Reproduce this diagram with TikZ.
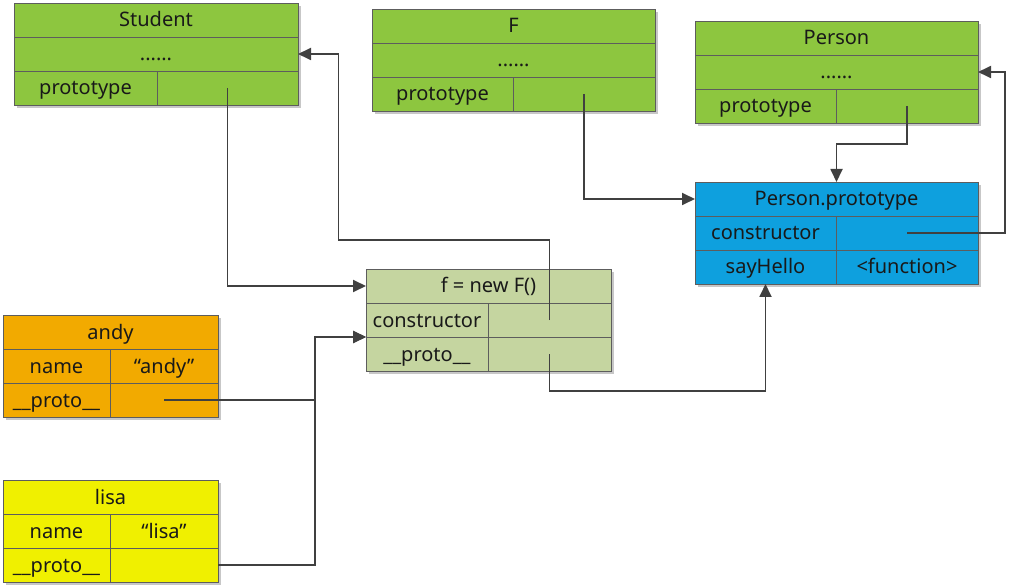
\documentclass[tikz,border=0pt]{standalone}
\usepackage{fontspec}
\setmainfont{Noto Sans}
\usetikzlibrary{positioning,shadows,arrows.meta}
\definecolor{leaf}{RGB}{141,198,63}
\definecolor{sky}{RGB}{14,160,222}
\definecolor{sage}{RGB}{197,213,160}
\definecolor{amber}{RGB}{242,170,0}
\definecolor{lemon}{RGB}{240,240,0}
\definecolor{edge}{RGB}{64,64,64}
\begin{document}
\begin{tikzpicture}[x=1pt,y=-1pt,
  cell/.style={draw=edge!85,line width=0.8pt,outer sep=0pt,inner sep=0pt,
    minimum height=34pt,text height=14pt,text depth=0pt,
    font=\fontsize{20}{24}\selectfont,text=black!90,
    drop shadow={shadow xshift=3pt,shadow yshift=-3pt,fill=black!22,opacity=1}},
  link/.style={draw=edge,line width=1.8pt,-{Triangle[length=13pt,width=12pt]}}]
\useasboundingbox (0,0) rectangle (1010,588);
% Student
\node[cell,fill=leaf,minimum width=284pt,anchor=north west] (stu) at (14,3) {Student};
\node[cell,fill=leaf,minimum width=284pt,below=0pt of stu] (stu-dots) {......};
\node[cell,fill=leaf,minimum width=143pt,below right=0pt and 0pt of stu-dots.south west] (stu-key) {prototype};
\node[cell,fill=leaf,minimum width=141pt,right=0pt of stu-key] (stu-val) {};
% F
\node[cell,fill=leaf,minimum width=283pt,anchor=north west] (F) at (372,9) {F};
\node[cell,fill=leaf,minimum width=283pt,below=0pt of F] (F-dots) {......};
\node[cell,fill=leaf,minimum width=141pt,below right=0pt and 0pt of F-dots.south west] (F-key) {prototype};
\node[cell,fill=leaf,minimum width=142pt,right=0pt of F-key] (F-val) {};
% Person
\node[cell,fill=leaf,minimum width=283pt,anchor=north west] (P) at (695,21) {Person};
\node[cell,fill=leaf,minimum width=283pt,below=0pt of P] (P-dots) {......};
\node[cell,fill=leaf,minimum width=141pt,below right=0pt and 0pt of P-dots.south west] (P-key) {prototype};
\node[cell,fill=leaf,minimum width=142pt,right=0pt of P-key] (P-val) {};
% Person.prototype
\node[cell,fill=sky,minimum width=283pt,anchor=north west] (pp) at (695,182) {Person.prototype};
\node[cell,fill=sky,minimum width=141pt,below right=0pt and 0pt of pp.south west] (pp-ctor-key) {constructor};
\node[cell,fill=sky,minimum width=142pt,right=0pt of pp-ctor-key] (pp-ctor-val) {};
\node[cell,fill=sky,minimum width=141pt,below right=0pt and 0pt of pp-ctor-key.south west] (pp-hello-key) {sayHello};
\node[cell,fill=sky,minimum width=142pt,right=0pt of pp-hello-key] (pp-hello-val) {<function>};
% f = new F()
\node[cell,fill=sage,minimum width=245pt,anchor=north west] (f) at (366,269) {f = new F()};
\node[cell,fill=sage,minimum width=122pt,below right=0pt and 0pt of f.south west] (f-ctor-key) {constructor};
\node[cell,fill=sage,minimum width=123pt,right=0pt of f-ctor-key] (f-ctor-val) {};
\node[cell,fill=sage,minimum width=122pt,below right=0pt and 0pt of f-ctor-key.south west] (f-proto-key) {\_\_proto\_\_};
\node[cell,fill=sage,minimum width=123pt,right=0pt of f-proto-key] (f-proto-val) {};
% andy
\node[cell,fill=amber,minimum width=215pt,anchor=north west] (andy) at (3,315) {andy};
\node[cell,fill=amber,minimum width=107pt,below right=0pt and 0pt of andy.south west] (andy-name-key) {name};
\node[cell,fill=amber,minimum width=108pt,right=0pt of andy-name-key] (andy-name-val) {“andy”};
\node[cell,fill=amber,minimum width=107pt,below right=0pt and 0pt of andy-name-key.south west] (andy-proto-key) {\_\_proto\_\_};
\node[cell,fill=amber,minimum width=108pt,right=0pt of andy-proto-key] (andy-proto-val) {};
% lisa
\node[cell,fill=lemon,minimum width=215pt,anchor=north west] (lisa) at (3,480) {lisa};
\node[cell,fill=lemon,minimum width=107pt,below right=0pt and 0pt of lisa.south west] (lisa-name-key) {name};
\node[cell,fill=lemon,minimum width=108pt,right=0pt of lisa-name-key] (lisa-name-val) {“lisa”};
\node[cell,fill=lemon,minimum width=107pt,below right=0pt and 0pt of lisa-name-key.south west] (lisa-proto-key) {\_\_proto\_\_};
\node[cell,fill=lemon,minimum width=108pt,right=0pt of lisa-proto-key] (lisa-proto-val) {};
% links
\draw[link] (stu-val.center) |- (f.west);
\draw[link] (f-ctor-val.center) -- ++(0,-80) -- ++(-211,0) |- (stu-dots.east);
\draw[link] (F-val.center) |- (pp.west);
\draw[link] (P-val.center) -- ++(0,38) -| (pp.north);
\draw[link] (pp-ctor-val.center) -- ++(98,0) |- (P-dots.east);
\draw[link] (f-proto-val.center) -- ++(0,37) -| (pp-hello-key.south);
\draw[link] (andy-proto-val.center) -- ++(151,0) |- (f-proto-key.north west);
\draw[link] (lisa-proto-val.east) -- ++(97,0) |- (f-proto-key.north west);
\end{tikzpicture}
\end{document}
